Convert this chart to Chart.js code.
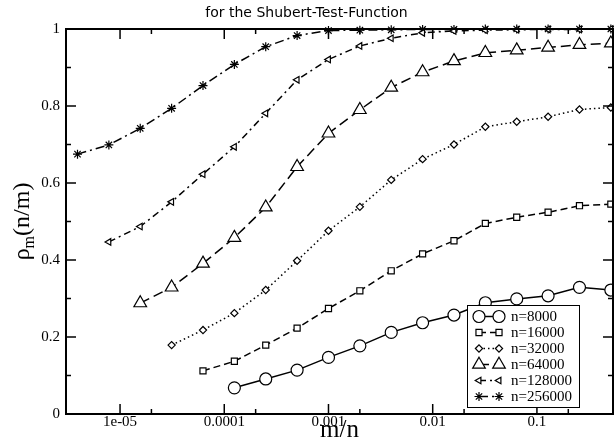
<!DOCTYPE html>
<html>
<head>
<meta charset="utf-8">
<script src="https://cdn.jsdelivr.net/npm/chart.js@4/dist/chart.umd.min.js"></script>
<style>
  html, body { margin: 0; padding: 0; background: #fff; }
  canvas { display: block; }
</style>
</head>
<body>
<canvas id="rho" width="614" height="441"></canvas>
<script>
// m/n grid (m doubles each step), shared by all runs
var mOverN = [3.90625e-6, 7.8125e-6, 1.5625e-5, 3.125e-5, 6.25e-5, 0.000125, 0.00025, 0.0005,
              0.001, 0.002, 0.004, 0.008, 0.016, 0.032, 0.064, 0.128, 0.256, 0.512];

// rho_m(n/m) per problem size; each run starts at m = 1
var rho8000   = [0.068, 0.091, 0.114, 0.147, 0.177, 0.212, 0.237, 0.257, 0.289, 0.299, 0.307, 0.329, 0.322];
var rho16000  = [0.112, 0.137, 0.179, 0.223, 0.274, 0.320, 0.372, 0.416, 0.450, 0.495, 0.511, 0.524, 0.541, 0.545];
var rho32000  = [0.179, 0.218, 0.262, 0.322, 0.398, 0.476, 0.538, 0.608, 0.662, 0.700, 0.746, 0.759, 0.772, 0.791, 0.796];
var rho64000  = [0.288, 0.329, 0.391, 0.458, 0.537, 0.642, 0.729, 0.790, 0.848, 0.888, 0.917, 0.938, 0.945, 0.952, 0.959, 0.963];
var rho128000 = [0.447, 0.487, 0.551, 0.623, 0.694, 0.781, 0.868, 0.921, 0.956, 0.976, 0.990, 0.995, 0.997, 0.998, 0.999, 0.999, 1.0];
var rho256000 = [0.675, 0.699, 0.742, 0.794, 0.853, 0.908, 0.954, 0.983, 0.996, 0.997, 0.998, 0.999, 0.999, 1.0, 1.0, 1.0, 1.0, 1.0];

var seriesLabels = ['n=8000', 'n=16000', 'n=32000', 'n=64000', 'n=128000', 'n=256000'];

var xTickValues = [1e-5, 1e-4, 1e-3, 1e-2, 1e-1];
var xTickLabels = ['1e-05', '0.0001', '0.001', '0.01', '0.1'];
var xMinorValues = [2e-5, 2e-4, 2e-3, 2e-2, 2e-1];
var yTickValues = [0, 0.1, 0.2, 0.3, 0.4, 0.5, 0.6, 0.7, 0.8, 0.9, 1];

var serif = '"Liberation Serif", "DejaVu Serif", serif';

// pair the tail of the m/n grid with a run's values
function toPoints(vals) {
    var off = mOverN.length - vals.length;
    return vals.map(function (v, i) { return { x: mOverN[off + i], y: v }; });
}

function makeSet(label, vals, style, radius, dash, rotation) {
    return {
        label: label,
        data: toPoints(vals),
        borderColor: '#000',
        backgroundColor: '#fff',
        borderWidth: 1.5,
        borderDash: dash,
        pointStyle: style,
        pointRadius: radius,
        pointRotation: rotation || 0,
        pointBorderColor: '#000',
        pointBackgroundColor: '#fff',
        pointBorderWidth: 1.2,
        tension: 0,
        fill: false,
        clip: false
    };
}

var datasets = [
    makeSet(seriesLabels[0], rho8000, 'circle', 6, []),
    makeSet(seriesLabels[1], rho16000, 'rect', 4.3, [7, 4]),
    makeSet(seriesLabels[2], rho32000, 'rectRot', 3.6, [1.5, 3]),
    makeSet(seriesLabels[3], rho64000, 'triangle', 7.3, [10, 5]),
    makeSet(seriesLabels[4], rho128000, 'triangle', 3.8, [7, 4, 2, 4], -90),
    makeSet(seriesLabels[5], rho256000, 'star', 4.5, [9, 4, 2, 4])
];

function tickLine(ctx, x1, y1, x2, y2) {
    ctx.beginPath();
    ctx.moveTo(x1, y1);
    ctx.lineTo(x2, y2);
    ctx.stroke();
}

// frame with inward ticks on all four sides
var frameTicks = {
    id: 'frameTicks',
    afterDraw: function (chart) {
        var ctx = chart.ctx, a = chart.chartArea;
        var xs = chart.scales.x, ys = chart.scales.y;
        ctx.save();
        ctx.setLineDash([]);
        ctx.strokeStyle = '#000';
        ctx.lineWidth = 1.5;
        xTickValues.forEach(function (v) {
            var px = xs.getPixelForValue(v);
            tickLine(ctx, px, a.bottom, px, a.bottom - 10);
            tickLine(ctx, px, a.top, px, a.top + 10);
        });
        xMinorValues.forEach(function (v) {
            var px = xs.getPixelForValue(v);
            tickLine(ctx, px, a.bottom, px, a.bottom - 5);
            tickLine(ctx, px, a.top, px, a.top + 5);
        });
        yTickValues.forEach(function (v, k) {
            var tl = k % 2 === 0 ? 10 : 5;
            var py = ys.getPixelForValue(v);
            tickLine(ctx, a.left, py, a.left + tl, py);
            tickLine(ctx, a.right, py, a.right - tl, py);
        });
        ctx.lineWidth = 2;
        ctx.strokeRect(a.left, a.top, a.right - a.left, a.bottom - a.top);
        ctx.restore();
    }
};

// y axis title with subscript m
var yTitle = {
    id: 'yTitle',
    afterDraw: function (chart) {
        var ctx = chart.ctx, a = chart.chartArea;
        var big = '24px ' + serif, small = '16px ' + serif;
        ctx.save();
        ctx.fillStyle = '#000';
        ctx.font = big;
        var w1 = ctx.measureText('\u03c1').width;
        var w3 = ctx.measureText('(n/m)').width;
        ctx.font = small;
        var w2 = ctx.measureText('m').width;
        var total = w1 + w2 + w3;
        ctx.translate(22, (a.top + a.bottom) / 2);
        ctx.rotate(-Math.PI / 2);
        ctx.textBaseline = 'alphabetic';
        ctx.textAlign = 'left';
        var x0 = -total / 2;
        ctx.font = big;
        ctx.fillText('\u03c1', x0, 7);
        ctx.font = small;
        ctx.fillText('m', x0 + w1, 12);
        ctx.font = big;
        ctx.fillText('(n/m)', x0 + w1 + w2, 7);
        ctx.restore();
    }
};

// boxed legend in the lower right corner: marker, line, marker, label
var boxLegend = {
    id: 'boxLegend',
    afterDraw: function (chart) {
        var ctx = chart.ctx;
        var bx = 467, by = 305, bw = 112, bh = 102;
        ctx.save();
        ctx.fillStyle = '#fff';
        ctx.fillRect(bx, by, bw, bh);
        ctx.strokeStyle = '#000';
        ctx.lineWidth = 1;
        ctx.strokeRect(bx + 0.5, by + 0.5, bw, bh);
        chart.data.datasets.forEach(function (ds, i) {
            var y = 316.5 + 16 * i;
            ctx.strokeStyle = '#000';
            ctx.lineWidth = ds.borderWidth;
            ctx.setLineDash(ds.borderDash);
            ctx.beginPath();
            ctx.moveTo(479, y); ctx.lineTo(499, y);
            ctx.stroke();
            ctx.setLineDash([]);
            var opts = {
                pointStyle: ds.pointStyle,
                radius: ds.pointRadius,
                rotation: ds.pointRotation,
                borderWidth: ds.pointBorderWidth
            };
            ctx.fillStyle = '#fff';
            ctx.lineWidth = ds.pointBorderWidth;
            Chart.helpers.drawPoint(ctx, opts, 479, y);
            ctx.fillStyle = '#fff';
            Chart.helpers.drawPoint(ctx, opts, 499, y);
            ctx.fillStyle = '#000';
            ctx.font = '15px ' + serif;
            ctx.textBaseline = 'middle';
            ctx.textAlign = 'left';
            ctx.fillText(ds.label, 511, y + 1);
        });
        ctx.restore();
    }
};

var ctx = document.getElementById('rho').getContext('2d');
var chart = new Chart(ctx, {
    type: 'line',
    data: { datasets: datasets },
    options: {
        responsive: false,
        animation: false,
        layout: { autoPadding: false, padding: { left: 0, right: 1, top: 0, bottom: 0 } },
        plugins: {
            legend: { display: false },
            tooltip: { enabled: false },
            title: {
                display: true,
                text: 'for the Shubert-Test-Function',
                color: '#000',
                font: { family: '"DejaVu Sans", sans-serif', size: 14, weight: 'normal', lineHeight: 1.1 },
                padding: { top: 6, bottom: 7.6 }
            }
        },
        scales: {
            x: {
                type: 'logarithmic',
                min: 3.03e-6,
                max: 0.537,
                grid: { display: false, drawTicks: false },
                border: { display: false },
                afterBuildTicks: function (scale) {
                    scale.ticks = xTickValues.map(function (v) { return { value: v }; });
                },
                afterFit: function (scale) {
                    scale.height = 27;
                    scale.paddingLeft = 0;
                    scale.paddingRight = 0;
                },
                ticks: {
                    autoSkip: false,
                    maxRotation: 0,
                    padding: -1,
                    color: '#000',
                    font: { family: serif, size: 15 },
                    callback: function (value, index) { return xTickLabels[index]; }
                },
                title: {
                    display: true,
                    text: 'm/n',
                    color: '#000',
                    font: { family: serif, size: 25, lineHeight: 1 },
                    padding: { top: 0, bottom: -2 }
                }
            },
            y: {
                min: 0,
                max: 1,
                grid: { display: false, drawTicks: false },
                border: { display: false },
                afterFit: function (scale) {
                    scale.width = 66;
                    scale.paddingTop = 0;
                    scale.paddingBottom = 0;
                },
                ticks: {
                    stepSize: 0.2,
                    padding: 6,
                    color: '#000',
                    font: { family: serif, size: 15 },
                    callback: function (value) { return String(Math.round(value * 10) / 10); }
                }
            }
        }
    },
    plugins: [frameTicks, yTitle, boxLegend]
});
</script>
</body>
</html>
